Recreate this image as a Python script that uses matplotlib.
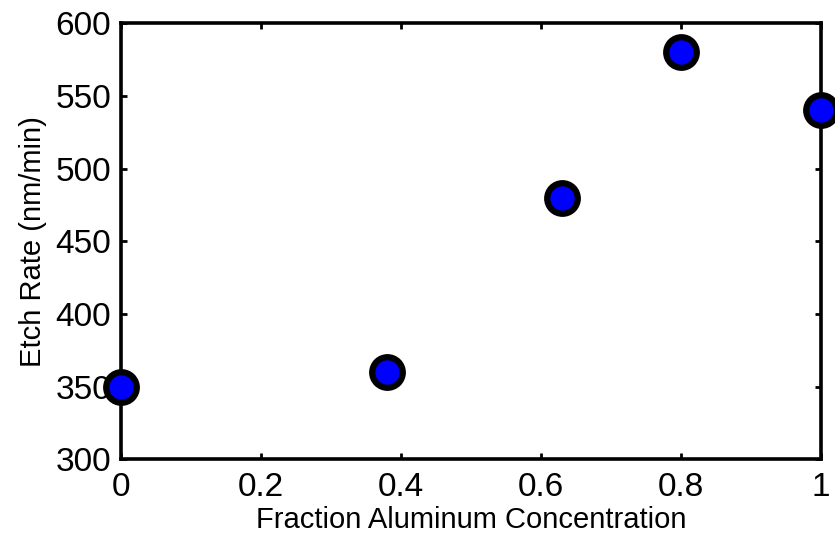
import matplotlib
matplotlib.use("Agg")
import matplotlib.pyplot as plt

# Data
al_fraction = [0.0, 0.38, 0.63, 0.8, 1.0]
etch_rate = [350, 360, 480, 580, 540]
x_ticks = [0, 0.2, 0.4, 0.6, 0.8, 1]
x_labels = ["0", "0.2", "0.4", "0.6", "0.8", "1"]
y_ticks = [300, 350, 400, 450, 500, 550, 600]

plt.rcParams['font.family'] = ['Liberation Sans', 'DejaVu Sans']

fig = plt.figure(figsize=(8.35, 5.39), dpi=100)
ax = fig.add_axes([0.145, 0.148, 0.838, 0.809])

ax.plot(al_fraction, etch_rate, linestyle='none', marker='o', markersize=22,
        markerfacecolor='#0000ff', markeredgecolor='black', markeredgewidth=4.5,
        clip_on=False, zorder=5)

ax.set_xlim(0, 1)
ax.set_ylim(300, 600)
ax.set_xticks(x_ticks)
ax.set_xticklabels(x_labels)
ax.set_yticks(y_ticks)

for side in ax.spines.values():
    side.set_linewidth(2.6)
ax.tick_params(direction='in', length=4, width=2, labelsize=24,
               top=True, right=True)
ax.tick_params(axis='x', pad=9)
ax.tick_params(axis='y', pad=7)

ax.set_xlabel("Fraction Aluminum Concentration", fontsize=21, labelpad=2)
ax.set_ylabel("Etch Rate (nm/min)", fontsize=21, labelpad=6)

fig.savefig("out.png", dpi=100)
